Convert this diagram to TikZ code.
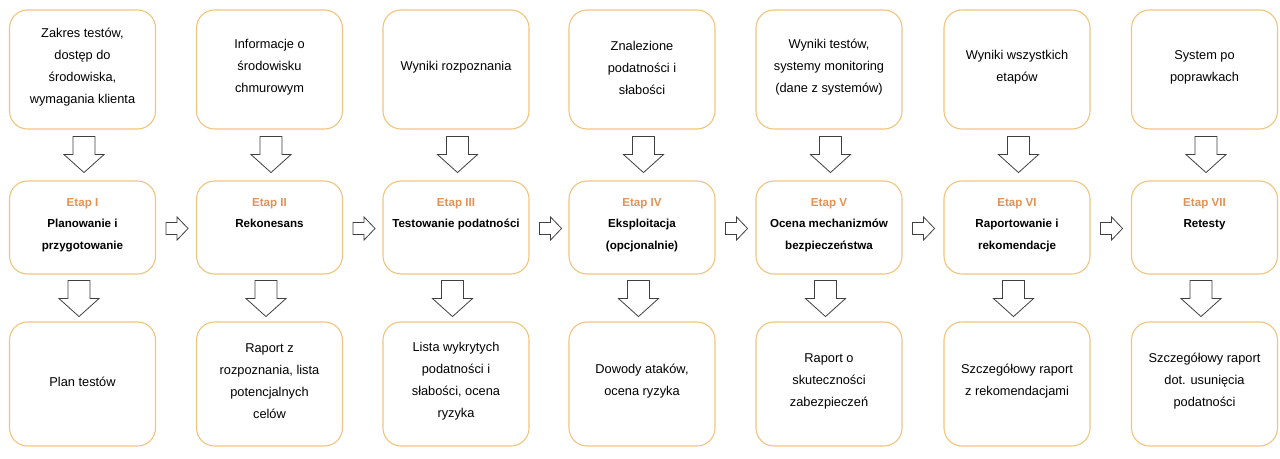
\documentclass[tikz,border=0pt]{standalone}
\usepackage{fontspec}
\setmainfont{Liberation Sans}
\usetikzlibrary{calc}
\definecolor{boxc}{HTML}{F2C47E}
\definecolor{etapc}{HTML}{E39255}
\definecolor{arrc}{HTML}{404040}
\tikzset{
  box/.style={draw=boxc, line width=1.1pt, rounded corners=18pt, minimum width=146pt, align=center, inner sep=0pt, fill=white},
  topbox/.style={box, minimum height=119pt},
  midbox/.style={box, minimum height=93pt},
  botbox/.style={box, minimum height=124pt},
  regtext/.style={font=\fontsize{12.8}{22}\selectfont, align=center, inner sep=0pt},
  titletext/.style={font=\fontsize{11.6}{21.5}\selectfont\bfseries, align=center, inner sep=0pt, anchor=north},
  arrline/.style={draw=arrc, line width=0.8pt, fill=white, line join=miter},
  darrow/.pic={\path[arrline] (-11,0) -- (11,0) -- (11,18) -- (20,18) -- (0,36) -- (-20,18) -- (-11,18) -- cycle;},
  rarrow/.pic={\path[arrline] (0,-6) -- (11,-6) -- (11,-11.5) -- (22,0) -- (11,11.5) -- (11,6) -- (0,6) -- cycle;}
}
\begin{document}
\begin{tikzpicture}[x=1pt,y=-1pt]
\useasboundingbox[fill=white] (0,0) rectangle (1280,458);
\def\etap#1{\textcolor{etapc}{#1}}
\foreach \i/\cx/\tt/\et/\ti/\bt in {
 1/82.5/{Zakres testów,\\dostęp do\\środowiska,\\wymagania klienta}/{Etap I}/{Planowanie i\\przygotowanie}/{Plan testów},
 2/269.5/{Informacje o\\środowisku\\chmurowym}/{Etap II}/{Rekonesans}/{Raport z\\rozpoznania, lista\\potencjalnych\\celów},
 3/456/{Wyniki rozpoznania}/{Etap III}/{Testowanie podatności}/{Lista wykrytych\\podatności i\\słabości, ocena\\ryzyka},
 4/642/{Znalezione\\podatności i\\słabości}/{Etap IV}/{Eksploitacja\\(opcjonalnie)}/{Dowody ataków,\\ocena ryzyka},
 5/829/{Wyniki testów,\\systemy monitoring\\(dane z systemów)}/{Etap V}/{Ocena mechanizmów\\bezpieczeństwa}/{Raport o\\skuteczności\\zabezpieczeń},
 6/1017/{Wyniki wszystkich\\etapów}/{Etap VI}/{Raportowanie i\\rekomendacje}/{Szczegółowy raport\\z rekomendacjami},
 7/1204.5/{System po\\poprawkach}/{Etap VII}/{Retesty}/{Szczegółowy raport\\dot. usunięcia\\podatności}}
{
  \node[topbox] (t\i) at (\cx,69.5) {};
  \node[regtext] (tt\i) at (\cx,67.5) {\tt};
  \node[midbox] (m\i) at (\cx,227.5) {};
  \node[titletext] (mt\i) at ($(m\i.north)+(0,17.8)$) {\etap{\et}\\\ti};
  \node[botbox] (b\i) at (\cx,384) {};
  \node[regtext] (bt\i) at (\cx,381.5) {\bt};
  \pic at ($(t\i.south)+(1.5,7)$) {darrow};
  \pic at ($(m\i.south)+(-3.5,6)$) {darrow};
}
\foreach \i in {1,...,6}{
  \pic at ($(m\i.east)+(10,1)$) {rarrow};
}
\end{tikzpicture}
\end{document}
